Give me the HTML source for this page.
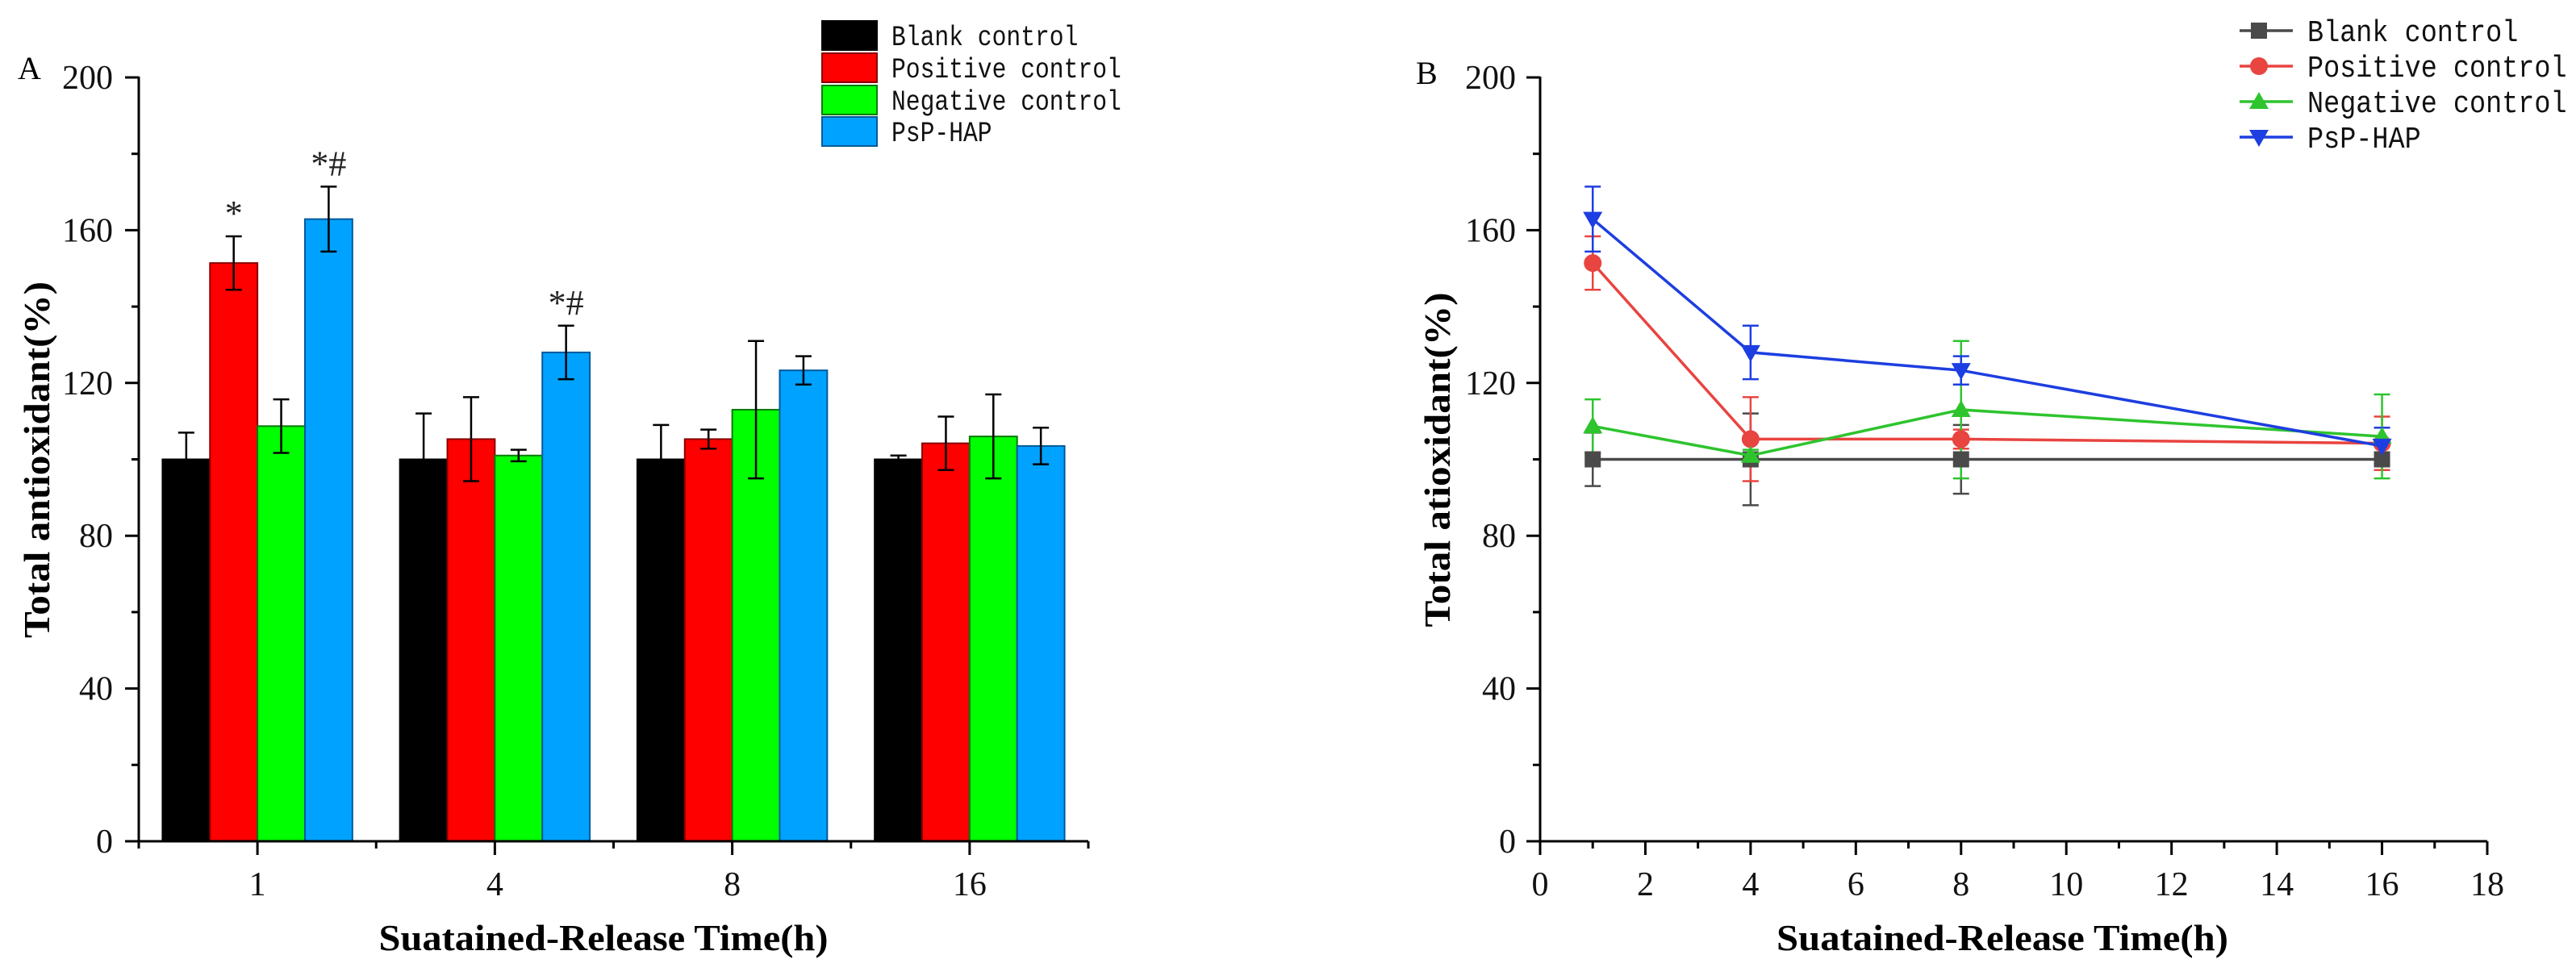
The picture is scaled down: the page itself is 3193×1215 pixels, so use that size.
<!DOCTYPE html>
<html><head><meta charset="utf-8"><style>
html,body{margin:0;padding:0;background:#fff;}
svg{display:block;}
text{font-family:"Liberation Serif",serif;}
.mono{font-family:"Liberation Mono",monospace;}
</style></head>
<body>
<svg id="fig" width="3193" height="1215" viewBox="0 0 3193 1215" xmlns="http://www.w3.org/2000/svg">
<g id="chartA"></g>
<g id="chartB"></g>
</svg>
<script>
const categories = ["1","4","8","16"];
const timesH = [1,4,8,16];
const seriesNames = ["Blank control","Positive control","Negative control","PsP-HAP"];
const blankVals = [100,100,100,100];
const positiveVals = [151.4,105.3,105.3,104.2];
const negativeVals = [108.7,101,113,106];
const psphapVals = [162.9,128,123.3,103.5];
const blankErr = [7,12,9,1];
const positiveErr = [7,11,2.5,7];
const negativeErr = [7,1.5,18,11];
const psphapErr = [8.5,7,3.7,4.8];
const yTicks = [0,40,80,120,160,200];
const xTicksB = [0,2,4,6,8,10,12,14,16,18];

const NS="http://www.w3.org/2000/svg";
function mk(tag,attrs,parent,txt){const e=document.createElementNS(NS,tag);for(const k in attrs)e.setAttribute(k,attrs[k]);if(txt!==undefined)e.textContent=txt;parent.appendChild(e);return e;}

const vals=[blankVals,positiveVals,negativeVals,psphapVals];
const errs=[blankErr,positiveErr,negativeErr,psphapErr];
const barFill=["#000000","#ff0000","#00ff00","#00a2ff"];
const barStroke=["#000000","#8a0000","#0a7a0a","#005a9a"];
const lineCol=["#4a4a4a","#e84440","#2ec42e","#1d3ee0"];

const y0=1043, yTop=96;
function yScale(v){return y0-(v/200)*(y0-yTop);}

// ---------- Chart A ----------
const A=document.getElementById('chartA');
const ax0=172, ax1=1349;
const catW=(ax1-ax0)/categories.length;
const barW=catW*0.8/4;
function xCat(i){return ax0+catW*(i+0.5);}

seriesNames.forEach((s,si)=>{
  categories.forEach((c,ci)=>{
    const v=vals[si][ci], e=errs[si][ci];
    const x=xCat(ci)-2*barW+si*barW;
    const r=mk('rect',{x:x,y:yScale(v),width:barW,height:y0-yScale(v),fill:barFill[si],stroke:barStroke[si],'stroke-width':2},A);
    
    
    const cx=x+barW/2;
    const g=mk('g',{stroke:'#000','stroke-width':2.5},A);
    
    
    mk('line',{x1:cx,x2:cx,y1:yScale(v-e),y2:yScale(v+e)},g);
    mk('line',{x1:cx-10,x2:cx+10,y1:yScale(v+e),y2:yScale(v+e)},g);
    mk('line',{x1:cx-10,x2:cx+10,y1:yScale(v-e),y2:yScale(v-e)},g);
  });
});
const annots=[[1,0,"*"],[3,0,"*#"],[3,1,"*#"]];
annots.forEach(a=>{
  const si=a[0],ci=a[1];
  const cx=xCat(ci)-2*barW+si*barW+barW/2;
  const t=mk('text',{x:cx,y:yScale(vals[si][ci]+errs[si][ci])-14,'font-size':44,'text-anchor':'middle',fill:'#222'},A,a[2]);
  
  
});
const axA=mk('g',{stroke:'#000','stroke-width':3,fill:'none'},A);


mk('line',{x1:ax0,y1:yTop-1,x2:ax0,y2:y0+1.5},axA);
mk('line',{x1:ax0-1.5,y1:y0,x2:ax1,y2:y0},axA);
for(let v=0;v<=200;v+=20){const major=v%40===0;mk('line',{x1:ax0-(major?17:9),x2:ax0,y1:yScale(v),y2:yScale(v)},axA);}
categories.forEach((c,ci)=>{mk('line',{x1:xCat(ci),x2:xCat(ci),y1:y0,y2:y0+17},axA);});
for(let i=0;i<=categories.length;i++){mk('line',{x1:ax0+catW*i,x2:ax0+catW*i,y1:y0,y2:y0+9},axA);}
yTicks.forEach(v=>{const t=mk('text',{x:ax0-32,y:yScale(v)+14,'font-size':42,'text-anchor':'end',fill:'#111'},A,String(v));});
categories.forEach((c,ci)=>{const t=mk('text',{x:xCat(ci),y:1110,'font-size':42,'text-anchor':'middle',fill:'#111'},A,c);});
let t;
t=mk('text',{x:748,y:1178,'font-size':46,'font-weight':'bold','text-anchor':'middle',textLength:557,lengthAdjust:'spacingAndGlyphs'},A,"Suatained-Release Time(h)");

t=mk('text',{x:0,y:0,'font-size':46,'font-weight':'bold','text-anchor':'middle',textLength:442,lengthAdjust:'spacingAndGlyphs',transform:'translate(61,570) rotate(-90)'},A,"Total antioxidant(%)");

t=mk('text',{x:22,y:98,'font-size':40},A,"A");

const legYA=[44,84,124,163];
seriesNames.forEach((s,si)=>{
  const g=mk('g',{},A);
  
  
  mk('rect',{x:1019,y:legYA[si]-18,width:68,height:36,fill:barFill[si],stroke:barStroke[si],'stroke-width':2},g);
  mk('text',{x:1105,y:legYA[si]+12,'font-size':35,'class':'mono',fill:'#111',textLength:s.length*17.8,lengthAdjust:'spacingAndGlyphs'},g,s);
});

// ---------- Chart B ----------
const B=document.getElementById('chartB');
const bx0=1909, bx1=3083;
function xTime(h){return bx0+(h/18)*(bx1-bx0);}
seriesNames.forEach((s,si)=>{
  const g=mk('g',{stroke:lineCol[si],'stroke-width':2.5},B);
  
  
  timesH.forEach((h,i)=>{
    const v=vals[si][i],e=errs[si][i],cx=xTime(h);
    mk('line',{x1:cx,x2:cx,y1:yScale(v-e),y2:yScale(v+e)},g);
    mk('line',{x1:cx-10,x2:cx+10,y1:yScale(v+e),y2:yScale(v+e)},g);
    mk('line',{x1:cx-10,x2:cx+10,y1:yScale(v-e),y2:yScale(v-e)},g);
  });
});
function marker(si,cx,cy,parent){
  const c=lineCol[si];
  if(si===0) return mk('rect',{x:cx-10,y:cy-10,width:20,height:20,fill:c},parent);
  if(si===1) return mk('circle',{cx:cx,cy:cy,r:11,fill:c},parent);
  if(si===2) return mk('polygon',{points:`${cx},${cy-12} ${cx+12},${cy+9} ${cx-12},${cy+9}`,fill:c},parent);
  return mk('polygon',{points:`${cx},${cy+12} ${cx+12},${cy-9} ${cx-12},${cy-9}`,fill:c},parent);
}
seriesNames.forEach((s,si)=>{
  const pts=timesH.map((h,i)=>xTime(h)+','+yScale(vals[si][i])).join(' ');
  const pl=mk('polyline',{points:pts,fill:'none',stroke:lineCol[si],'stroke-width':3.5},B);
  
  
  timesH.forEach((h,i)=>{
    const m=marker(si,xTime(h),yScale(vals[si][i]),B);
    
    
  });
});
const axB=mk('g',{stroke:'#000','stroke-width':3,fill:'none'},B);


mk('line',{x1:bx0,y1:yTop-1,x2:bx0,y2:y0+17},axB);
mk('line',{x1:bx0-17,y1:y0,x2:bx1,y2:y0},axB);
for(let v=20;v<=200;v+=20){const major=v%40===0;mk('line',{x1:bx0-(major?17:9),x2:bx0,y1:yScale(v),y2:yScale(v)},axB);}
for(let h=0;h<=18;h++){const major=h%2===0;mk('line',{x1:xTime(h),x2:xTime(h),y1:y0,y2:y0+(major?17:9)},axB);}
yTicks.forEach(v=>{const t=mk('text',{x:bx0-30,y:yScale(v)+14,'font-size':42,'text-anchor':'end',fill:'#111'},B,String(v));});
xTicksB.forEach(h=>{const t=mk('text',{x:xTime(h),y:1110,'font-size':42,'text-anchor':'middle',fill:'#111'},B,String(h));});
t=mk('text',{x:2482,y:1178,'font-size':46,'font-weight':'bold','text-anchor':'middle',textLength:560,lengthAdjust:'spacingAndGlyphs'},B,"Suatained-Release Time(h)");

t=mk('text',{x:0,y:0,'font-size':46,'font-weight':'bold','text-anchor':'middle',textLength:415,lengthAdjust:'spacingAndGlyphs',transform:'translate(1797,570) rotate(-90)'},B,"Total atioxidant(%)");

t=mk('text',{x:1755,y:104,'font-size':40},B,"B");

const legYB=[38,82,126,170];
seriesNames.forEach((s,si)=>{
  const g=mk('g',{},B);
  
  
  mk('line',{x1:2776,x2:2842,y1:legYB[si],y2:legYB[si],stroke:lineCol[si],'stroke-width':3.5},g);
  marker(si,2800,legYB[si],g);
  mk('text',{x:2860,y:legYB[si]+13,'font-size':38,'class':'mono',fill:'#111',textLength:s.length*20.1,lengthAdjust:'spacingAndGlyphs'},g,s);
});
</script>
</body></html>
